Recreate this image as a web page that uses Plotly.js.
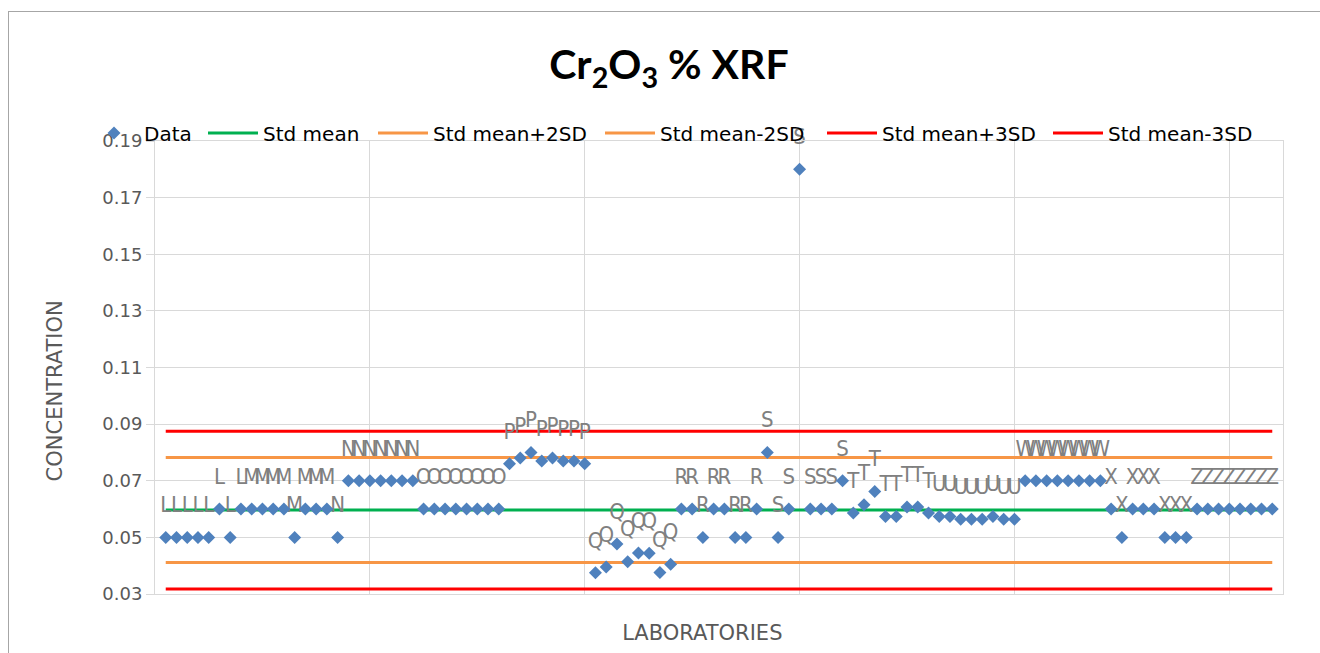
<!DOCTYPE html>
<html><head><meta charset="utf-8">
<script src="https://cdn.plot.ly/plotly-3.0.1.min.js"></script>
<style>
html,body{margin:0;padding:0;background:#fff;overflow:hidden}
#chart{position:absolute;left:0;top:0;width:1320px;height:653px}
#frame{position:absolute;left:8px;top:11px;width:1400px;height:700px;border:1px solid #a6a6a6;box-sizing:border-box;pointer-events:none}
</style></head><body>
<div id="chart"></div><div id="frame"></div>
<script>
// laboratory code of every reported result, in plotting order
const labCodes = 'LLLLLLLLMMMMMMMMNNNNNNNNOOOOOOOOPPPPPPPPQQQQQQQQRRRRRRRRSSSSSSSSTTTTTTTTUUUUUUUUWWWWWWWWXXXXXXXXZZZZZZZZ'.split('');
// Cr2O3 % results (XRF)
const concentration = [
  0.05, 0.05, 0.05, 0.05, 0.05, 0.06, 0.05, 0.06,            // L
  0.06, 0.06, 0.06, 0.06, 0.05, 0.06, 0.06, 0.06,            // M
  0.05, 0.07, 0.07, 0.07, 0.07, 0.07, 0.07, 0.07,            // N
  0.06, 0.06, 0.06, 0.06, 0.06, 0.06, 0.06, 0.06,            // O
  0.076, 0.078, 0.080, 0.077, 0.078, 0.077, 0.077, 0.076,    // P
  0.0375, 0.0395, 0.0477, 0.0414, 0.0445, 0.0444, 0.0376, 0.0405, // Q
  0.06, 0.06, 0.05, 0.06, 0.06, 0.05, 0.05, 0.06,            // R
  0.08, 0.05, 0.06, 0.18, 0.06, 0.06, 0.06, 0.07,            // S
  0.0586, 0.0615, 0.0662, 0.0574, 0.0574, 0.0607, 0.0607, 0.0586, // T
  0.0574, 0.0574, 0.0564, 0.0564, 0.0564, 0.0574, 0.0564, 0.0564, // U
  0.07, 0.07, 0.07, 0.07, 0.07, 0.07, 0.07, 0.07,            // W
  0.06, 0.05, 0.06, 0.06, 0.06, 0.05, 0.05, 0.05,            // X
  0.06, 0.06, 0.06, 0.06, 0.06, 0.06, 0.06, 0.06             // Z
];
// reference statistics
const stdMean = 0.0597;
const stdMeanPlus2SD = 0.0782;
const stdMeanMinus2SD = 0.0411;
const stdMeanPlus3SD = 0.0875;
const stdMeanMinus3SD = 0.0318;

const sampleNo = concentration.map((v, i) => i + 1);
const xSpan = [sampleNo[0], sampleNo[sampleNo.length - 1]];

const FONT = '"DejaVu Sans", sans-serif';
const LABEL_FONT = '"Liberation Sans Narrow", "DejaVu Sans Condensed", "DejaVu Sans", sans-serif';
const PAD = '&nbsp;';

function refLine(name, value, color, legendId) {
  return {
    type: 'scatter', mode: 'lines', name: name,
    x: xSpan, y: [value, value],
    line: {color: color, width: 3},
    legend: legendId, hoverinfo: 'skip'
  };
}

const traces = [
  refLine('Std mean', stdMean, '#00b050', 'legend2'),
  refLine('Std mean+2SD', stdMeanPlus2SD, '#f79646', 'legend3'),
  refLine('Std mean-2SD', stdMeanMinus2SD, '#f79646', 'legend4'),
  refLine('Std mean+3SD', stdMeanPlus3SD, '#ff0000', 'legend5'),
  refLine('Std mean-3SD', stdMeanMinus3SD, '#ff0000', 'legend6'),
  {
    // laboratory codes written above each result
    type: 'scatter', mode: 'markers+text', name: 'Lab',
    x: sampleNo, y: concentration, text: labCodes,
    textposition: 'top center',
    textfont: {family: LABEL_FONT, size: 22, color: '#808080'},
    marker: {symbol: 'circle', size: 30, color: 'rgba(0,0,0,0)'},
    cliponaxis: false, showlegend: false, hoverinfo: 'skip'
  },
  {
    type: 'scatter', mode: 'markers', name: 'Data',
    x: sampleNo, y: concentration,
    marker: {symbol: 'diamond', size: 10, color: '#4f81bd'},
    cliponaxis: false, legend: 'legend'
  }
];

function legendAt(px) {
  return {
    x: px / 1320, xref: 'container', xanchor: 'left',
    y: 1 - 133 / 653, yref: 'container', yanchor: 'middle',
    orientation: 'h', bgcolor: 'rgba(0,0,0,0)', itemwidth: 50,
    font: {family: FONT, size: 20, color: '#000'}
  };
}

const layout = {
  width: 1320, height: 653,
  paper_bgcolor: '#fff', plot_bgcolor: '#fff',
  margin: {l: 155, r: 37, t: 141, b: 59, autoexpand: false},
  font: {family: FONT},
  title: {
    text: 'Cr<sub>2</sub>O<sub>3</sub> % XRF',
    font: {family: 'Lato, sans-serif', size: 41, weight: 700, color: '#000'},
    x: 669 / 1320, xref: 'container', xanchor: 'center',
    y: 1 - 65 / 653, yref: 'container', yanchor: 'middle'
  },
  showlegend: true,
  legend: legendAt(84),
  legend2: legendAt(203),
  legend3: legendAt(373),
  legend4: legendAt(600),
  legend5: legendAt(822),
  legend6: legendAt(1048),
  xaxis: {
    range: [0, 105], tick0: 0, dtick: 20,
    showticklabels: false, ticks: '',
    showgrid: true, gridcolor: '#d9d9d9', gridwidth: 1,
    showline: true, mirror: true, linecolor: '#d9d9d9',
    zeroline: false,
    title: {text: 'LABORATORIES' + PAD.repeat(5), font: {family: FONT, size: 21, color: '#595959'}, standoff: 31}
  },
  yaxis: {
    range: [0.03, 0.19], tick0: 0.03, dtick: 0.02, tickformat: '.2f',
    ticks: 'outside', ticklen: 8, tickcolor: '#d9d9d9',
    tickfont: {family: FONT, size: 18, color: '#595959'},
    showgrid: true, gridcolor: '#d9d9d9', gridwidth: 1,
    showline: true, mirror: true, linecolor: '#d9d9d9',
    zeroline: false,
    title: {text: 'CONCENTRATION' + PAD.repeat(7), font: {family: FONT, size: 21, color: '#595959'}, standoff: 33}
  }
};

Plotly.newPlot('chart', traces, layout, {displayModeBar: false, staticPlot: true});
</script>
</body></html>
